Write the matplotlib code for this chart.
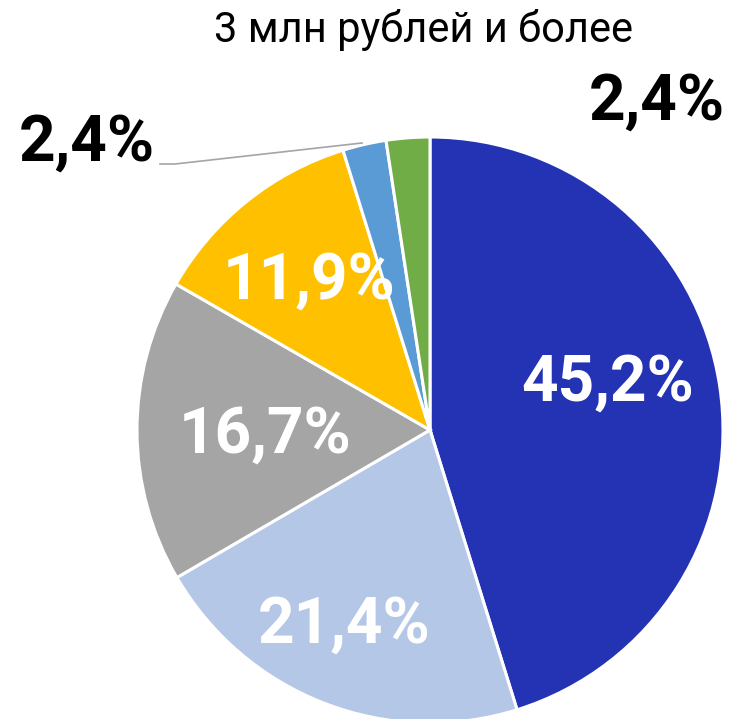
import matplotlib.pyplot as plt

title = "3 млн рублей и более"
shares = [45.2, 21.4, 16.7, 11.9, 2.4, 2.4]
labels = ["45,2%", "21,4%", "16,7%", "11,9%", "2,4%", "2,4%"]
colors = ["#2433B4", "#B4C7E7", "#A5A5A5", "#FFC000", "#5B9BD5", "#70AD47"]

fam = ["Roboto", "DejaVu Sans"]

fig = plt.figure(figsize=(7.32, 7.19), dpi=100)
ax = fig.add_axes([0, 0, 1, 1])

cx, cy, r = 430, 289, 293
wedges, _ = ax.pie(shares, colors=colors, startangle=90, counterclock=False,
                   center=(cx, cy), radius=r, frame=True,
                   wedgeprops=dict(edgecolor="white", linewidth=2.2))
ax.set_xlim(0, 732)
ax.set_ylim(0, 719)
ax.set_aspect("equal")
ax.axis("off")

# label positions (pixels, image top origin)
inner = {0: (608, 383), 1: (344, 625), 2: (265, 435), 3: (309, 281)}
for i, (x, y) in inner.items():
    ax.text(x, 719 - y, labels[i], color="white", fontsize=46, fontweight="bold",
            family=fam, ha="center", va="center")

ax.text(87, 719 - 143, labels[4], color="black", fontsize=46, fontweight="bold",
        family=fam, ha="center", va="center")
ax.text(657, 719 - 102, labels[5], color="black", fontsize=46, fontweight="bold",
        family=fam, ha="center", va="center")
ax.plot([160, 175, 362], [719 - 164, 719 - 164, 719 - 143], color="#A5A5A5", lw=1.2)

ax.text(423, 719 - 30, title, fontsize=30, family=fam, ha="center", va="center")

fig.savefig("out.png", dpi=100)
